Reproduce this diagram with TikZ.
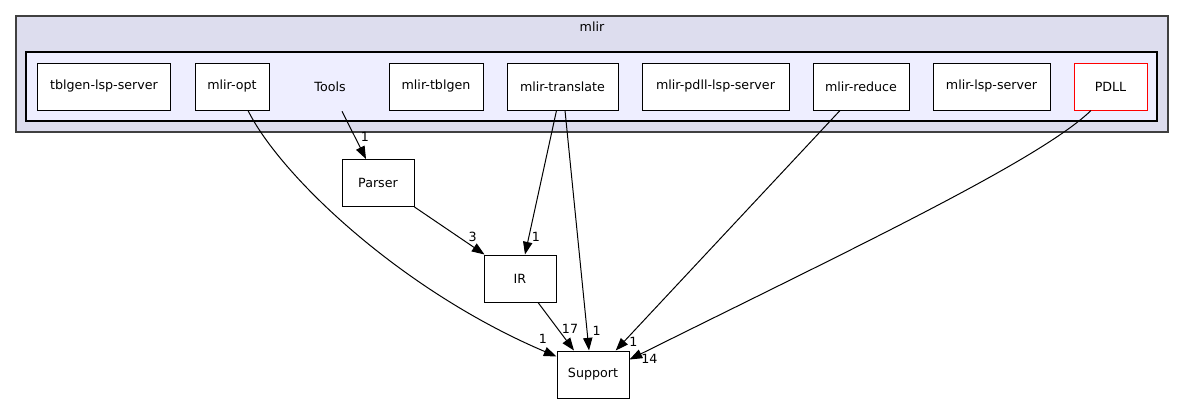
\documentclass[tikz,border=0pt]{standalone}
\usepackage{fontspec}
\setmainfont{DejaVu Sans}
\usetikzlibrary{arrows.meta,calc}
\definecolor{outerfill}{HTML}{DDDDEE}
\definecolor{innerfill}{HTML}{EEEEFF}
\definecolor{clusterline}{HTML}{404040}
\begin{document}
\begin{tikzpicture}[x=0.75pt,y=-0.75pt,
  every node/.style={font=\fontsize{9.5}{11}\selectfont, inner sep=0pt},
  dirbox/.style={draw=black, fill=white, line width=0.75pt, minimum height={47*0.75pt}},
  dep/.style={draw=black, line width=0.75pt, -{Triangle[length=9.5pt,width=7pt]}},
  lbl/.style={}]
\useasboundingbox (0,0) rectangle (1184,404);
% clusters
\draw[fill=outerfill, draw=clusterline, line width=1.1pt] (16,16) rectangle (1168,132);
\node (mlirlabel) at (592,27) {mlir};
\draw[fill=innerfill, draw=black, line width=0.8pt] (26,52) rectangle (1157,121);
% nodes inside
\node[dirbox, minimum width={133*0.75pt}] (tblgen) at (104,86.5) {tblgen-lsp-server};
\node[dirbox, minimum width={74*0.75pt}] (opt) at (232,86.5) {mlir-opt};
\node[minimum height={47*0.75pt}] (tools) at (330,86.5) {Tools};
\node[dirbox, minimum width={94*0.75pt}] (tblgenx) at (436,86.5) {mlir-tblgen};
\node[dirbox, minimum width={111*0.75pt}] (translate) at (562.5,86.5) {mlir-translate};
\node[dirbox, minimum width={147*0.75pt}] (pdlllsp) at (715.5,86.5) {mlir-pdll-lsp-server};
\node[dirbox, minimum width={96*0.75pt}] (reduce) at (861,86.5) {mlir-reduce};
\node[dirbox, minimum width={117*0.75pt}] (lsp) at (991.5,86.5) {mlir-lsp-server};
\node[dirbox, draw=red, minimum width={73*0.75pt}] (pdll) at (1110.5,86.5) {PDLL};
% outside nodes
\node[dirbox, minimum width={72*0.75pt}] (parser) at (378,183) {Parser};
\node[dirbox, minimum width={72*0.75pt}] (ir) at (520,278.5) {IR};
\node[dirbox, minimum width={72*0.75pt}] (support) at (593,374.5) {Support};
% edges
\draw[dep] ($(opt.south)+(16,0)$) .. controls (280,175) and (400,290) .. ($(support.north west)+(0,6)$);
\draw[dep] ($(tools.south)+(12,1)$) -- ($(parser.north)+(-12,0)$);
\draw[dep] (parser.south east) -- ($(ir.north west)+(1,0)$);
\draw[dep] ($(translate.south)+(-6,0)$) -- ($(ir.north)+(5,0)$);
\draw[dep] ($(translate.south)+(2.5,0)$) -- ($(support.north)+(-4,0)$);
\draw[dep] ($(ir.south)+(18,0)$) -- ($(support.north)+(-19,0)$);
\draw[dep] ($(reduce.south)+(-21,0)$) -- ($(support.north)+(22.7,0)$);
\draw[dep] ($(pdll.south)+(-19.5,0)$) .. controls (1040,160) and (850,250) .. ($(support.north east)+(0,9)$);
% edge labels
\node[lbl] (lopt) at (543,339) {1};
\node[lbl] (ltools) at (365,136.7) {1};
\node[lbl] (lparser) at (472.7,236.7) {3};
\node[lbl] (ltrir) at (536,237.3) {1};
\node[lbl] (ltrsup) at (596.7,330.7) {1};
\node[lbl] (lir) at (570,329.3) {17};
\node[lbl] (lreduce) at (633.3,341.7) {1};
\node[lbl] (lpdll) at (649.3,359.3) {14};
\end{tikzpicture}
\end{document}
